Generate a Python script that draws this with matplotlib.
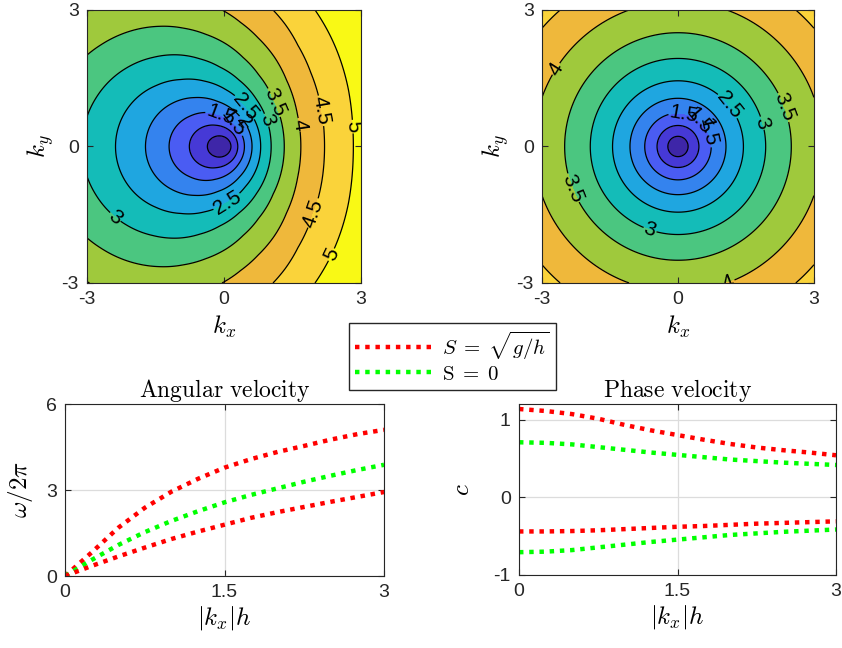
import numpy as np
import matplotlib
matplotlib.use('Agg')
import matplotlib.pyplot as plt
from matplotlib.ticker import FormatStrFormatter

plt.rcParams['font.family'] = ['Liberation Sans', 'DejaVu Sans']
plt.rcParams['mathtext.fontset'] = 'cm'
plt.rcParams['axes.unicode_minus'] = False

kh = [0, 0.25, 0.5, 0.75, 1.0, 1.25, 1.5, 1.75, 2.0, 2.25, 2.5, 2.75, 3.0]

# angular velocity omega/2pi
omega_sheared_up = [0, 0.82, 1.68, 2.38, 2.94, 3.39, 3.78, 4.08, 4.33, 4.54, 4.76, 4.95, 5.10]
omega_sheared_down = [0, 0.35, 0.68, 0.99, 1.29, 1.55, 1.79, 2.03, 2.23, 2.41, 2.59, 2.76, 2.93]
omega_still = [0, 0.56, 1.08, 1.53, 1.92, 2.26, 2.57, 2.83, 3.06, 3.29, 3.50, 3.70, 3.88]

# phase velocity c
c_sheared_up = [1.135, 1.11, 1.07, 1.01, 0.93, 0.86, 0.80, 0.74, 0.685, 0.64, 0.605, 0.575, 0.54]
c_sheared_down = [-0.44, -0.44, -0.435, -0.425, -0.41, -0.395, -0.38, -0.37, -0.355, -0.34, -0.33, -0.32, -0.31]
c_still_up = [0.707, 0.70, 0.68, 0.645, 0.61, 0.575, 0.545, 0.515, 0.485, 0.465, 0.445, 0.43, 0.415]
c_still_down = [-0.707, -0.70, -0.68, -0.645, -0.61, -0.575, -0.545, -0.515, -0.485, -0.465, -0.445, -0.43, -0.415]

# radial profile beyond |k|=3 (corners)
kh_ext = [3.25, 3.5, 3.75, 4.0, 4.25]
omega_sheared_up_ext = [5.26, 5.42, 5.58, 5.74, 5.89]
omega_sheared_down_ext = [3.09, 3.25, 3.40, 3.55, 3.70]
omega_still_ext = [4.04, 4.20, 4.36, 4.52, 4.68]

fill_levels = [0, 0.5, 1, 1.5, 2, 2.5, 3, 3.5, 4, 4.5, 5, 5.5, 7]
line_levels = [0.5, 1, 1.5, 2, 2.5, 3, 3.5, 4, 4.5, 5]
band_colors = ['#3e26a8', '#4639d6', '#4a5cf3', '#3483ee', '#1fa6e0', '#14bcb8',
               '#4bc680', '#9fc93c', '#efb83b', '#fad33a', '#f9f915', '#f9f915']

dark = '#262626'

# contour grids built from the radial profiles
kr = np.array(kh + kh_ext)
up = np.array(omega_sheared_up + omega_sheared_up_ext)
down = np.array(omega_sheared_down + omega_sheared_down_ext)
still = np.array(omega_still + omega_still_ext)

kx = np.linspace(-3, 3, 301)
KX, KY = np.meshgrid(kx, kx)
R = np.hypot(KX, KY)
cos_t = np.divide(KX, R, out=np.zeros_like(R), where=R > 0)
U = np.interp(R, kr, up)
L = np.interp(R, kr, down)
Z_left = 0.5 * (U + L) + 0.5 * (U - L) * cos_t
Z_right = np.interp(R, kr, still)

fig = plt.figure(figsize=(8.42, 6.48), dpi=100)
ax1 = fig.add_axes([0.1033, 0.5633, 0.3254, 0.4213])
ax2 = fig.add_axes([0.6437, 0.5633, 0.3230, 0.4213])
ax3 = fig.add_axes([0.0772, 0.1111, 0.3789, 0.2654])
ax4 = fig.add_axes([0.6164, 0.1127, 0.3765, 0.2639])

label_pos_left = [(-0.09, 0.65), (0.13, 0.51), (0.5, 0.6), (0.5, 0.9), (0.85, 0.55),
                  (1.07, 0.95), (1.6, 0.47), (1.99, 0.76), (2.71, 0.43),
                  (0.13, -1.33), (-2.43, -1.61), (1.95, -1.46), (2.36, -2.38)]
label_pos_right = [(0.11, 0.62), (0.37, 0.47), (0.74, 0.43), (0.99, 0.80), (1.70, 0.47),
                   (2.18, 0.80), (-2.65, 1.68), (-2.34, -0.92), (-0.62, -1.84), (1.1, -2.97)]

for ax, Z, pos in [(ax1, Z_left, label_pos_left), (ax2, Z_right, label_pos_right)]:
    ax.contourf(KX, KY, Z, levels=fill_levels, colors=band_colors)
    cs = ax.contour(KX, KY, Z, levels=line_levels, colors='k', linewidths=0.9)
    ax.clabel(cs, inline=True, fontsize=15, fmt='%g', manual=pos, inline_spacing=1)
    ax.set_xlim(-3, 3)
    ax.set_ylim(-3, 3)
    ax.set_xticks([-3, 0, 3])
    ax.set_yticks([-3, 0, 3])
    ax.set_xlabel(r'$k_x$', fontsize=18, labelpad=4)
    ax.set_ylabel(r'$k_y$', fontsize=18, labelpad=4)

dots = (0, (1, 1.3))
ax3.plot(kh, omega_sheared_up, color='#ff0000', lw=3.2, linestyle=dots, label=r'$S\;=\;\sqrt{g/h}$')
ax3.plot(kh, omega_still, color='#00ff00', lw=3.2, linestyle=dots, label=r'$\mathrm{S}\;=\;0$')
ax3.plot(kh, omega_sheared_down, color='#ff0000', lw=3.2, linestyle=dots)
ax3.set_xlim(0, 3)
ax3.set_ylim(0, 6)
ax3.set_xticks([0, 1.5, 3])
ax3.set_yticks([0, 3, 6])
ax3.set_title(r'$\mathrm{Angular\ velocity}$', fontsize=17, pad=5)
ax3.set_ylabel(r'$\omega/2\pi$', fontsize=18, labelpad=8)

ax4.plot(kh, c_sheared_up, color='#ff0000', lw=3.2, linestyle=dots)
ax4.plot(kh, c_sheared_down, color='#ff0000', lw=3.2, linestyle=dots)
ax4.plot(kh, c_still_up, color='#00ff00', lw=3.2, linestyle=dots)
ax4.plot(kh, c_still_down, color='#00ff00', lw=3.2, linestyle=dots)
ax4.set_xlim(0, 3)
ax4.set_ylim(-1, 1.2)
ax4.set_xticks([0, 1.5, 3])
ax4.set_yticks([-1, 0, 1])
ax4.set_title(r'$\mathrm{Phase\ velocity}$', fontsize=17, pad=5)
ax4.set_ylabel(r'$c$', fontsize=18, labelpad=14)

for ax in (ax3, ax4):
    ax.grid(True, color='#dcdcdc', lw=0.9)
    ax.set_axisbelow(True)
    ax.set_xlabel(r'$|k_x|h$', fontsize=18, labelpad=2)

for ax in (ax1, ax2, ax3, ax4):
    ax.xaxis.set_major_formatter(FormatStrFormatter('%g'))
    ax.yaxis.set_major_formatter(FormatStrFormatter('%g'))
    ax.tick_params(direction='in', top=True, right=True, length=4, width=0.8,
                   labelsize=14, colors=dark, pad=6)
    for s in ax.spines.values():
        s.set_color(dark)
        s.set_linewidth(0.8)
        s.set_zorder(5)

h, l = ax3.get_legend_handles_labels()
fig.legend(h, l, loc='center', bbox_to_anchor=(0.537, 0.45), fontsize=15,
           handlelength=3.9, handletextpad=0.3, labelspacing=0.15, borderpad=0.3,
           fancybox=False, framealpha=1, edgecolor=dark)

fig.savefig('out.png', dpi=100)
